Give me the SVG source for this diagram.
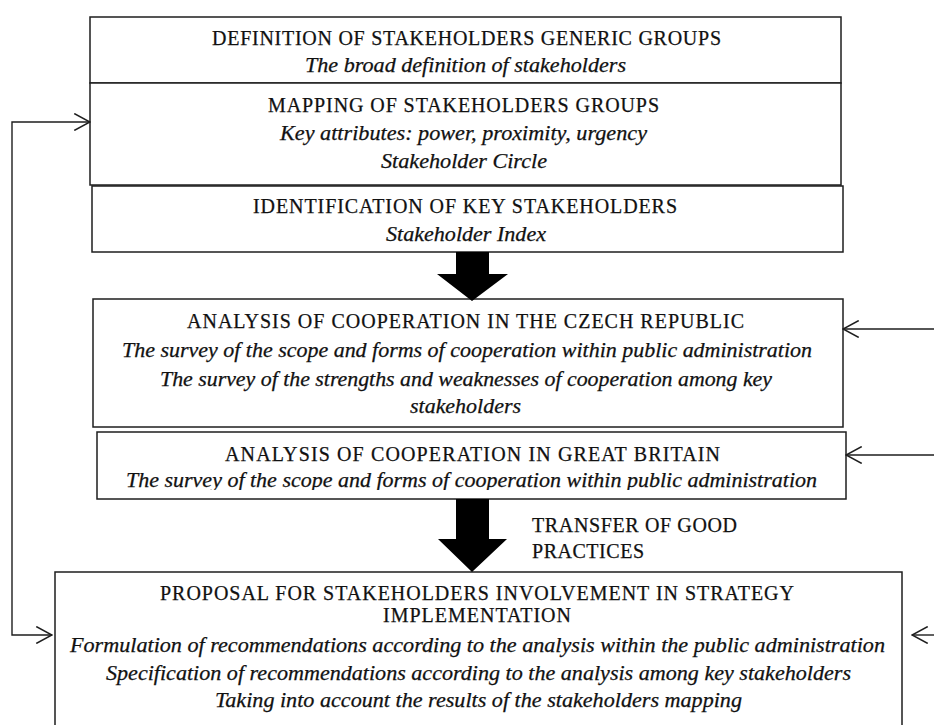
<svg xmlns="http://www.w3.org/2000/svg" width="934" height="725" viewBox="0 0 934 725">
<style>
.box{fill:#fff;stroke:#1e1e1e;stroke-width:1.5}
.t{font-family:'Liberation Serif','Times New Roman',serif;font-size:20px;fill:#111;stroke:#111;stroke-width:0.25;text-anchor:start}
.i{font-style:italic}
.con{fill:none;stroke:#1e1e1e;stroke-width:1.4}
.big{fill:#000;stroke:none}
</style>
<defs>
<marker id="open" markerUnits="userSpaceOnUse" markerWidth="18" markerHeight="18" viewBox="0 0 16 16" refX="15" refY="8" orient="auto-start-reverse">
<path d="M1,0.5 L15,8 L1,15.5" fill="none" stroke="#1e1e1e" stroke-width="1.4"/>
</marker>
<clipPath id="gbclip"><rect x="90" y="432" width="760" height="58"/></clipPath>
</defs>
<rect width="934" height="725" fill="#fff"/>

<g id="n_definition" font-family="Liberation Serif, serif">
<rect class="box" x="90" y="17" width="751" height="66"/>
<text class="t" x="212" y="45" textLength="509">DEFINITION OF STAKEHOLDERS  GENERIC GROUPS</text>
<text class="t i" x="305" y="72" textLength="321" lengthAdjust="spacingAndGlyphs">The broad definition of stakeholders</text>
</g>

<g id="n_mapping" font-family="Liberation Serif, serif">
<rect class="box" x="90" y="83" width="751" height="102"/>
<text class="t" x="268" y="112" textLength="391">MAPPING OF STAKEHOLDERS  GROUPS</text>
<text class="t i" x="280" y="140" textLength="367" lengthAdjust="spacingAndGlyphs">Key attributes: power, proximity, urgency</text>
<text class="t i" x="381" y="168" textLength="166" lengthAdjust="spacingAndGlyphs">Stakeholder Circle</text>
</g>

<g id="n_identification" font-family="Liberation Serif, serif">
<rect class="box" x="92" y="186" width="751" height="66"/>
<text class="t" x="253" y="213" textLength="424">IDENTIFICATION OF KEY STAKEHOLDERS</text>
<text class="t i" x="386" y="241" textLength="160" lengthAdjust="spacingAndGlyphs">Stakeholder Index</text>
</g>

<g id="n_czech" font-family="Liberation Serif, serif">
<rect class="box" x="93" y="299" width="750" height="128"/>
<text class="t" x="187" y="328" textLength="557">ANALYSIS  OF  COOPERATION  IN THE CZECH REPUBLIC</text>
<text class="t i" x="122" y="357" textLength="690" lengthAdjust="spacingAndGlyphs">The survey of the scope and forms of cooperation within public administration</text>
<text class="t i" x="160" y="386" textLength="612" lengthAdjust="spacingAndGlyphs">The survey of the strengths and weaknesses of cooperation among key</text>
<text class="t i" x="410" y="413" textLength="111" lengthAdjust="spacingAndGlyphs">stakeholders</text>
</g>

<g id="n_britain" font-family="Liberation Serif, serif">
<rect class="box" x="97" y="432" width="749" height="67"/>
<text class="t" x="225" y="461" textLength="495">ANALYSIS  OF  COOPERATION  IN GREAT BRITAIN</text>
<text class="t i" x="126" y="487" textLength="691" lengthAdjust="spacingAndGlyphs" clip-path="url(#gbclip)">The survey of the scope and forms of cooperation within public administration</text>
</g>

<g id="n_proposal" font-family="Liberation Serif, serif">
<rect class="box" x="55" y="572" width="847" height="160"/>
<text class="t" x="160" y="600" textLength="634">PROPOSAL  FOR STAKEHOLDERS  INVOLVEMENT  IN STRATEGY</text>
<text class="t" x="383" y="622" textLength="188">IMPLEMENTATION</text>
<text class="t i" x="70" y="652" textLength="815" lengthAdjust="spacingAndGlyphs">Formulation of recommendations according to the analysis within the public administration</text>
<text class="t i" x="106" y="680" textLength="745" lengthAdjust="spacingAndGlyphs">Specification of recommendations according to the analysis among key stakeholders</text>
<text class="t i" x="215" y="707" textLength="527" lengthAdjust="spacingAndGlyphs">Taking into account the results of the stakeholders mapping</text>
</g>

<g id="connectors" font-family="Liberation Serif, serif">
<polygon class="big" points="456,252 489,252 489,274 508,274 472,301 437,274 456,274"/>
<polygon class="big" points="456,499 489,499 489,539 507,539 472,572 438,539 456,539"/>
<path class="con" d="M90,122 H12 V635 H52" marker-start="url(#open)" marker-end="url(#open)"/>
<path class="con" d="M934,329 H843" marker-end="url(#open)"/>
<path class="con" d="M934,455 H846" marker-end="url(#open)"/>
<path class="con" d="M934,635 H912" marker-end="url(#open)"/>
<g id="label_transfer">
<text class="t" x="532" y="532" textLength="205">TRANSFER  OF GOOD</text>
<text class="t" x="532" y="558" textLength="112">PRACTICES</text>
</g>
</g>
</svg>
